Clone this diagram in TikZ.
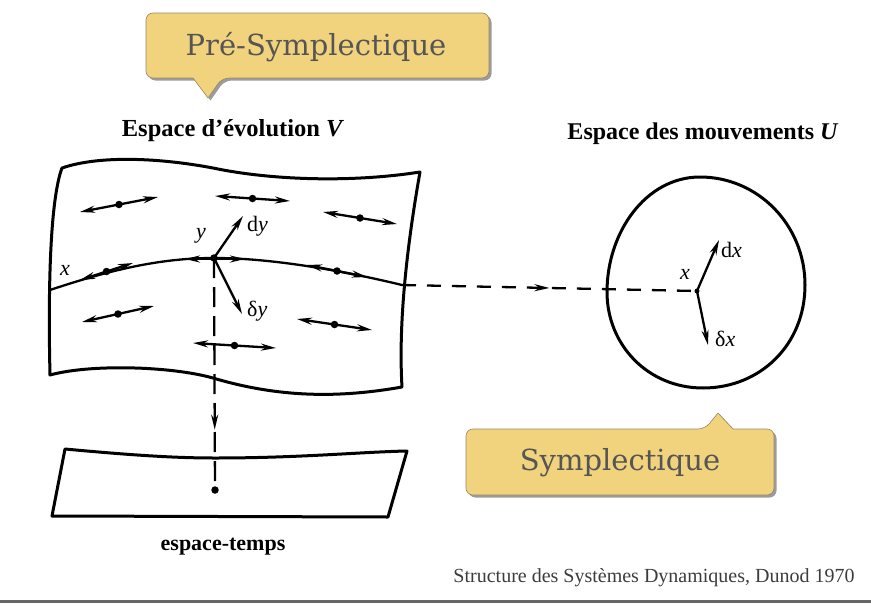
\documentclass[tikz,border=0pt]{standalone}
\usepackage{fontspec}
\setmainfont{Liberation Serif}
\newfontfamily\bubfont{DejaVu Serif}
\usepackage{tikz}
\usetikzlibrary{arrows.meta,positioning,calc,shadows,decorations.markings}
\definecolor{clrBub}{RGB}{242,211,125}
\definecolor{clrBubTxt}{RGB}{85,85,85}
\definecolor{clrBubEdge}{RGB}{150,135,100}
\definecolor{clrCap}{RGB}{60,60,60}

\tikzset{
  sheet/.style={line width=3pt,line join=round},
  fld/.style={{Stealth[length=15pt,width=7pt]}-{Stealth[length=15pt,width=7pt]},line width=2.3pt},
  tng/.style={-{Stealth[length=15pt,width=7pt]},line width=2.3pt},
  dotpt/.style={circle,fill,inner sep=0pt,minimum size=7.5pt},
  ttl/.style={font=\fontsize{24.5}{27}\selectfont\bfseries},
  var/.style={font=\fontsize{22}{25}\selectfont,inner sep=1pt},
  bubble/.style={fill=clrBub,draw=clrBubEdge,line width=0.6pt,rounded corners=7pt,
    drop shadow={shadow xshift=2.5pt,shadow yshift=-2.5pt,opacity=0.6,fill=black!65}},
  bubtxt/.style={font=\bubfont\fontsize{29}{32}\selectfont,text=clrBubTxt},
  midarr/.style={decoration={markings,mark=at position #1 with {\arrow{Stealth[length=15pt,width=7pt]}}},postaction={decorate}},
}

\begin{document}
\begin{tikzpicture}[x=1pt,y=-1pt]
  \useasboundingbox (0,0) rectangle (871,608);

  % callouts
  \path[bubble] (146,13) -- (489,13) -- (489,78) -- (222,78) [sharp corners] -- (208,98) -- (193,78) [rounded corners=7pt] -- (146,78) -- cycle;
  \node[bubtxt] (pre) at (316,47) {Pré-Symplectique};
  \path[bubble] (466,429) -- (705,429) [sharp corners] -- (718,413) -- (733,429) [rounded corners=7pt] -- (774,429) -- (774,495) -- (466,495) -- cycle;
  \node[bubtxt] (sym) at (620,463) {Symplectique};

  % titles
  \node[ttl] (tV) at (233,131) {Espace d'évolution \textit{V}};
  \node[ttl,font=\fontsize{24}{27}\selectfont\bfseries] (tU) at (703,134) {Espace des mouvements \textit{U}};
  \node[ttl,font=\fontsize{22}{25}\selectfont\bfseries] (tE) at (223,547) {espace-temps};

  % evolution space V
  \draw[sheet] (62,168) .. controls (100,155) and (160,158) .. (213,168)
    .. controls (270,180) and (350,183) .. (420,172)
    .. controls (408,240) and (398,320) .. (402,387)
    .. controls (340,398) and (280,398) .. (213,378)
    .. controls (170,366) and (90,364) .. (50,375)
    .. controls (48,290) and (50,200) .. cycle;

  % space-time
  \draw[sheet] (65,449) .. controls (140,456) and (180,458) .. (215,458)
    .. controls (300,458) and (360,452) .. (407,451)
    -- (388,517) -- (52,516) -- cycle;

  % motion x through y
  \coordinate (x0) at (50,290);
  \coordinate (xe) at (402,285);
  \node[dotpt] (yy) at (214,258) {};
  \draw[line width=2.3pt] (x0) .. controls (110,270) and (160,258) .. (yy.center)
    .. controls (270,258) and (340,270) .. (xe);
  \node[var,anchor=south west] (lx) at (59,277) {\textit{x}};
  \node[var] (ly) at (201,236) {\textit{y}};

  % field of directions
  \foreach \ax/\ay/\bx/\by [count=\i] in {80/212/158/197, 215/196/290/201, 323/212/397/224,
      82/322/154/306, 297/319/372/330, 193/343/276/348,
      80/280/133/263, 307/265/367/277}{
    \draw[fld] (\ax,\ay) -- node[dotpt] (f\i) {} (\bx,\by);
  }
  \draw[fld] (185,259) -- (245,259);

  % tangent vectors at y
  \coordinate (dyt) at (243,216);
  \coordinate (ddyt) at (242,314);
  \draw[tng] (yy.center) -- (dyt);
  \draw[tng] (yy.center) -- (ddyt);
  \node[var,anchor=west] (ldy) at (246,226) {d\textit{y}};
  \node[var,anchor=west] (lddy) at (246,311) {δ\textit{y}};

  % projection to space-time
  \node[dotpt] (tp) at (215,490) {};
  \draw[line width=2.3pt,dash pattern=on 20pt off 9pt,midarr=0.74] (yy.center) -- (tp.center);

  % motion space U
  \draw[sheet] (700,177) .. controls (758,177) and (805,225) .. (805,285)
    .. controls (805,345) and (760,388) .. (703,388)
    .. controls (648,388) and (607,345) .. (607,292)
    .. controls (607,232) and (646,177) .. cycle;
  \node[dotpt,minimum size=5pt] (ux) at (697,291) {};
  \draw[line width=2.3pt,dash pattern=on 14pt off 11pt,midarr=0.5] (xe) -- (ux.center);

  % tangent vectors at x
  \coordinate (dxt) at (719,240);
  \coordinate (ddxt) at (708,345);
  \draw[tng] (ux.center) -- (dxt);
  \draw[tng] (ux.center) -- (ddxt);
  \node[var] (lux) at (685,274) {\textit{x}};
  \node[var,anchor=west] (ldx) at (720,250) {d\textit{x}};
  \node[var,anchor=west] (lddx) at (714,339) {δ\textit{x}};

  % source
  \node[font=\fontsize{20}{23}\selectfont,text=clrCap] (src) at (654,578) {Structure des Systèmes Dynamiques, Dunod 1970};
  \draw[black!60,line width=3pt] (0,601) -- (871,601);
\end{tikzpicture}
\end{document}
